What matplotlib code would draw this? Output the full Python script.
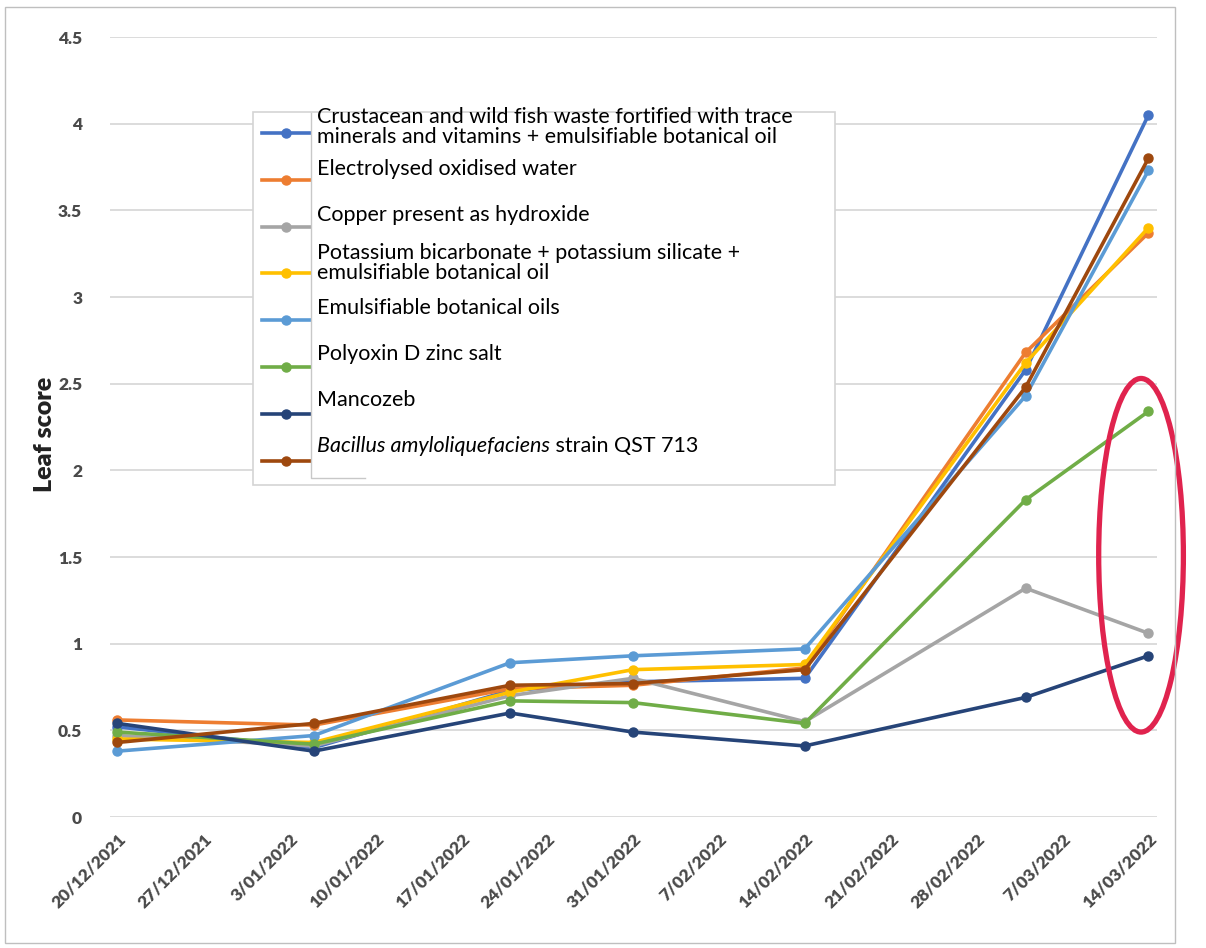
import datetime as dt
import matplotlib
matplotlib.use("Agg")
import matplotlib.pyplot as plt
import matplotlib.dates as mdates
from matplotlib.patches import Ellipse, Rectangle
from matplotlib.lines import Line2D

# observation dates and leaf scores
dates = ["2021-12-20", "2022-01-05", "2022-01-21", "2022-01-31",
         "2022-02-14", "2022-03-04", "2022-03-14"]
crustacean = [0.52, 0.40, 0.73, 0.78, 0.80, 2.58, 4.05]
electrolysed = [0.56, 0.53, 0.74, 0.76, 0.86, 2.68, 3.37]
copper = [0.47, 0.41, 0.70, 0.80, 0.55, 1.32, 1.06]
potassium = [0.45, 0.43, 0.72, 0.85, 0.88, 2.62, 3.40]
botanical = [0.38, 0.47, 0.89, 0.93, 0.97, 2.43, 3.73]
polyoxin = [0.49, 0.42, 0.67, 0.66, 0.54, 1.83, 2.34]
mancozeb = [0.54, 0.38, 0.60, 0.49, 0.41, 0.69, 0.93]
bacillus = [0.43, 0.54, 0.76, 0.77, 0.85, 2.48, 3.80]

labels = [
    "Crustacean and wild fish waste fortified with trace\nminerals and vitamins + emulsifiable botanical oil",
    "Electrolysed oxidised water",
    "Copper present as hydroxide",
    "Potassium bicarbonate + potassium silicate +\nemulsifiable botanical oil",
    "Emulsifiable botanical oils",
    "Polyoxin D zinc salt",
    "Mancozeb",
    "Bacillus amyloliquefaciens",
]
series = [crustacean, electrolysed, copper, potassium, botanical, polyoxin, mancozeb, bacillus]
colors = ["#4472C4", "#ED7D31", "#A5A5A5", "#FFC000", "#5B9BD5", "#70AD47", "#264478", "#9E480E"]

tick_start = "2021-12-20"
tick_end = "2022-03-14"

W, H = 1206, 948
fig = plt.figure(figsize=(W / 100, H / 100), dpi=100)
ax = fig.add_axes([110 / W, 1 - 817 / H, 1047 / W, 780 / H])

x = [dt.datetime.strptime(d, "%Y-%m-%d") for d in dates]
for vals, c in zip(series, colors):
    ax.plot(x, vals, color=c, lw=2.6, marker="o", ms=6.5, zorder=3)

t0 = dt.datetime.strptime(tick_start, "%Y-%m-%d")
t1 = dt.datetime.strptime(tick_end, "%Y-%m-%d")
ax.set_xlim(t0 - dt.timedelta(days=0.6), t1 + dt.timedelta(days=0.7))
ax.set_ylim(0, 4.5)
ax.set_yticks([0, 0.5, 1, 1.5, 2, 2.5, 3, 3.5, 4, 4.5])
ax.set_yticklabels(["0", "0.5", "1", "1.5", "2", "2.5", "3", "3.5", "4", "4.5"])
ticks = []
t = t0
while t <= t1:
    ticks.append(t)
    t += dt.timedelta(days=7)
ax.set_xticks(ticks)
ax.set_xticklabels([f"{d.day}/{d:%m/%Y}" for d in ticks], rotation=45,
                   ha="right", va="top", rotation_mode="anchor")

for lab in ax.get_xticklabels() + ax.get_yticklabels():
    lab.set_fontfamily("Lato")
    lab.set_fontweight("heavy")
    lab.set_color("#4a4a4a")
    lab.set_fontsize(12.5)
ax.tick_params(axis="both", length=0)
ax.tick_params(axis="y", pad=20)
ax.tick_params(axis="x", pad=10)
ax.grid(axis="y", color="#d9d9d9", lw=1.3)
ax.set_axisbelow(True)
for s in ax.spines.values():
    s.set_visible(False)

ax.set_ylabel("Leaf score", fontsize=18, fontweight="heavy", fontfamily="Lato", color="#222222")
ax.yaxis.set_label_coords(-0.052, 0.49)

# legend frame and pasted text box
ax.add_patch(Rectangle((253 / W, 1 - 485 / H), (835 - 253) / W, (485 - 112) / H,
                       transform=fig.transFigure, facecolor="white",
                       edgecolor="#d4d4d4", lw=1.2, zorder=5, clip_on=False))
handles = [Line2D([], [], color=c, lw=2.6, marker="o", ms=6.5) for c in colors]
leg = ax.legend(handles, [" "] * len(handles), loc="upper left",
                bbox_to_anchor=(262 / W, 1 - 123 / H), bbox_transform=fig.transFigure,
                frameon=False, fontsize=13, handlelength=2.7, handleheight=2.0,
                labelspacing=1.05, borderpad=0, borderaxespad=0, handletextpad=0.2)
leg.set_zorder(6)
ax.add_patch(Rectangle((311 / W, 1 - 478 / H), (810 - 311) / W, (478 - 114) / H,
                       transform=fig.transFigure, facecolor="white",
                       edgecolor="none", zorder=7, clip_on=False))
ax.add_line(Line2D([311 / W, 311 / W, 365 / W], [1 - 113 / H, 1 - 478 / H, 1 - 478 / H],
                   transform=fig.transFigure, color="#c8c8c8", lw=1, zorder=7.5, clip_on=False))

text_y = [118, 169, 215, 254, 308, 354, 400, 446]
for lab, ty in zip(labels, text_y):
    kw = dict(transform=fig.transFigure, fontsize=15.5, fontfamily="Lato",
              va="center", ha="left", linespacing=1.0, zorder=8)
    if "\n" in lab:
        tt = fig.text(317 / W, 1 - (ty - 11) / H, lab, **kw)
        tt.set_va("top")
    elif lab.startswith("Bacillus"):
        it = fig.text(317 / W, 1 - ty / H, lab, style="italic", **kw)
        ax.annotate(" strain QST 713", xy=(1, 0.5), xycoords=it, va="center",
                    ha="left", fontsize=15.5, fontfamily="Lato", zorder=8)
    else:
        fig.text(317 / W, 1 - ty / H, lab, **kw)

# highlighted final values
xc = mdates.date2num(t1) - 0.6
ax.add_patch(Ellipse((xc, 1.51), 6.9, 2.04, fill=False, edgecolor="#E0234E",
                     lw=3.8, zorder=4, clip_on=False))

# outer chart border
fig.add_artist(Rectangle((5 / W, 1 - 943 / H), (1175 - 5) / W, (943 - 7) / H,
                         transform=fig.transFigure, fill=False, edgecolor="#bfbfbf", lw=1))

fig.savefig("out.png", dpi=100)
